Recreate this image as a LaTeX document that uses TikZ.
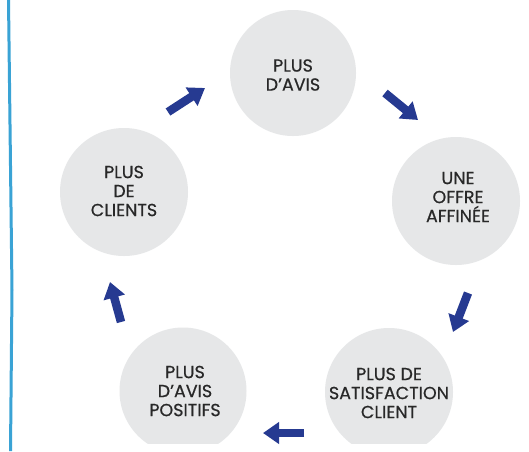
\documentclass[tikz,border=0pt]{standalone}
\usepackage{fontspec}
\setmainfont{Poppins}[RawFeature={embolden=0.6}]
\usetikzlibrary{arrows.meta}
\definecolor{blobgray}{RGB}{230,231,232}
\definecolor{txtgray}{RGB}{40,40,40}
\definecolor{navy}{RGB}{38,58,145}
\definecolor{sidebl}{RGB}{58,163,213}
\tikzset{
  blob/.style={circle, fill=blobgray, inner sep=0pt, minimum size=#1},
  lbl/.style={text=txtgray, align=center, font=\fontsize{17.5}{19}\selectfont},
  bigarrow/.style={draw=navy, line width=8.5pt, line cap=butt,
    -{Triangle[width=21pt,length=16pt]}},
}
\begin{document}
\begin{tikzpicture}[x=1pt,y=-1pt]
\useasboundingbox (0,0) rectangle (529,451);
\fill[white] (0,0) rectangle (529,451);
% side line
\draw[sidebl, line width=3pt] (8.5,0) -- (12,290) -- (10.5,451);
\begin{scope}
\clip (0,0) rectangle (529,443);
\node[blob=126pt] (b1) at (293,73) {};
\node[blob=128pt] (b2) at (456,201) {};
\node[blob=128pt] (b3) at (389,392) {};
\node[blob=127pt] (b4) at (183,391) {};
\node[blob=128pt] (b5) at (124,192) {};
\end{scope}
\node[lbl] (t1) at (293,75) {PLUS\\D’AVIS};
\node[lbl] (t2) at (458,197) {UNE\\OFFRE\\AFFINÉE};
\node[lbl] (t3) at (389,393) {PLUS DE\\SATISFACTION\\CLIENT};
\node[lbl] (t4) at (185,391) {PLUS\\D’AVIS\\POSITIFS};
\node[lbl] (t5) at (124,191) {PLUS\\DE\\CLIENTS};
% arrows
\coordinate (a1s) at (168,112); \coordinate (a1e) at (205,88);
\coordinate (a2s) at (385,93);  \coordinate (a2e) at (418,120);
\coordinate (a3s) at (468,293); \coordinate (a3e) at (453,332);
\coordinate (a4s) at (304,433); \coordinate (a4e) at (263,433);
\coordinate (a5s) at (121,322); \coordinate (a5e) at (110,282);
\draw[bigarrow] (a1s) -- (a1e);
\draw[bigarrow] (a2s) -- (a2e);
\draw[bigarrow] (a3s) -- (a3e);
\draw[bigarrow] (a4s) -- (a4e);
\draw[bigarrow] (a5s) -- (a5e);
\end{tikzpicture}
\end{document}
